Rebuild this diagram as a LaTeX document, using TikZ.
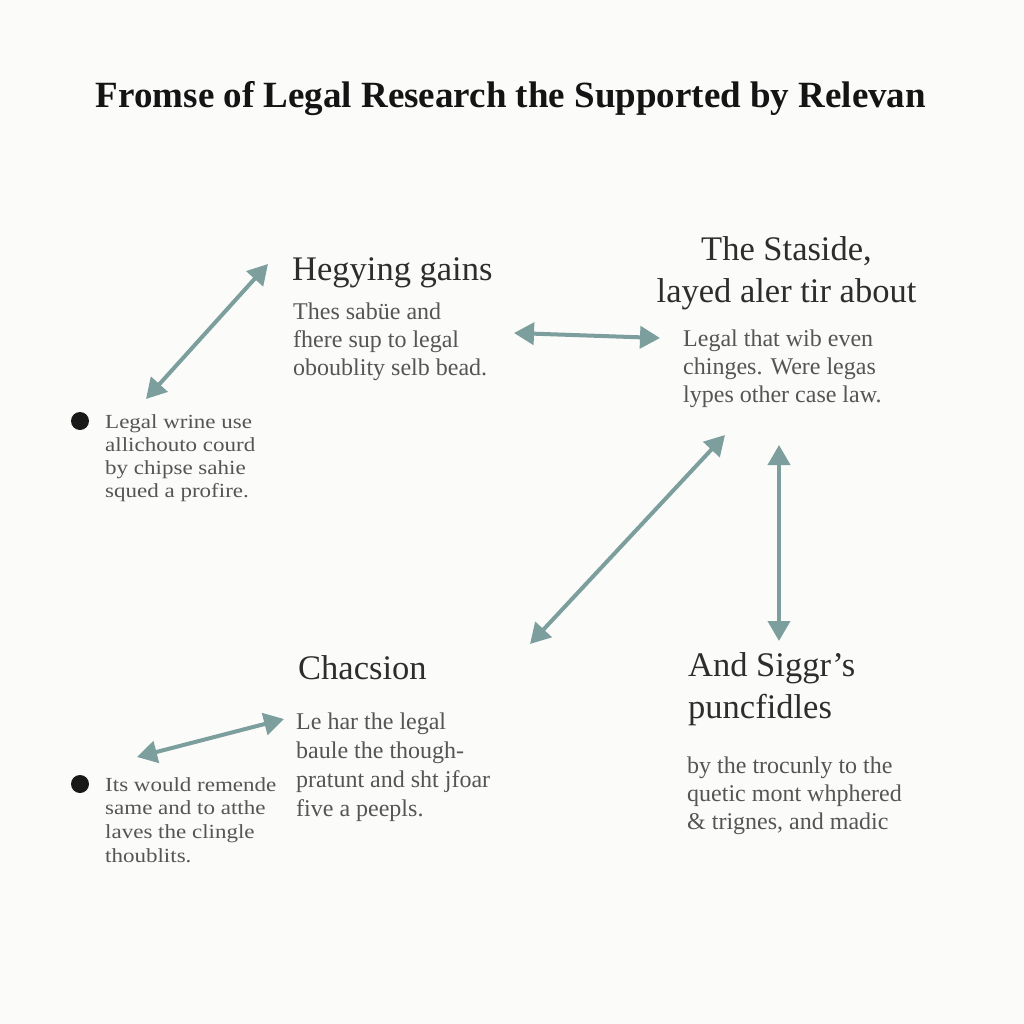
\documentclass[tikz,border=0pt]{standalone}
\usepackage{fontspec}
\setmainfont{Liberation Serif}
\newfontfamily\widefont[FakeStretch=1.15]{Liberation Serif}
\usetikzlibrary{arrows.meta}
\definecolor{bg}{RGB}{251,251,250}
\definecolor{arr}{RGB}{124,158,157}
\definecolor{headc}{RGB}{45,45,45}
\definecolor{bodyc}{RGB}{85,85,85}
\definecolor{titlec}{RGB}{20,20,20}
\tikzset{
  titletext/.style={font=\bfseries\fontsize{37}{42}\selectfont, text=titlec, inner sep=0},
  headtext/.style={font=\fontsize{34.5}{40}\selectfont, text=headc, inner sep=0, anchor=base west, align=left},
  bodytext/.style={font=\fontsize{24}{28}\selectfont, text=bodyc, inner sep=0, anchor=base west, align=left},
  bullettext/.style={font=\widefont\fontsize{20}{23}\selectfont, text=bodyc, inner sep=0, anchor=base west, align=left},
  dblarrow/.style={draw=arr, line width=4pt, {Triangle[length=20pt,width=22pt]}-{Triangle[length=20pt,width=22pt]}},
  dot/.style={circle, fill=black!90, inner sep=0, minimum size=18pt}
}
\begin{document}
\begin{tikzpicture}[x=1pt,y=-1pt]
\useasboundingbox (0,0) rectangle (1024,1024);
\fill[bg] (0,0) rectangle (1024,1024);

\node[titletext, anchor=base] (title) at (511,108) {Fromse of Legal Research the Supported by Relevan};

% Top left block
\node[headtext] (h1) at (292,280) {Hegying gains};
\node[bodytext] (b1) at (293,375) {Thes sabüe and\\fhere sup to legal\\oboublity selb bead.};

% Top right block
\node[headtext, anchor=base, align=center, font=\fontsize{34.5}{42}\selectfont] (h2) at (786.5,302) {The Staside,\\layed aler tir about};
\node[bodytext] (b2) at (683,402) {Legal that wib even\\chinges. Were legas\\lypes other case law.};

% Left bullet 1
\node[dot] (d1) at (80,421) {};
\node[bullettext] (t1) at (105,497) {Legal wrine use\\allichouto courd\\by chipse sahie\\squed a profire.};

% Bottom middle block
\node[headtext] (h3) at (298,679) {Chacsion};
\node[bodytext, font=\fontsize{24}{28.8}\selectfont] (b3) at (296,816) {Le har the legal\\baule the though-\\pratunt and sht jfoar\\five a peepls.};

% Bottom right block
\node[headtext, font=\fontsize{34.5}{42}\selectfont] (h4) at (688,718) {And Siggr’s\\puncfidles};
\node[bodytext] (b4) at (687,829) {by the trocunly to the\\quetic mont whphered\\\& trignes, and madic};

% Left bullet 2
\node[dot] (d2) at (80,784) {};
\node[bullettext, font=\widefont\fontsize{20}{23.6}\selectfont] (t2) at (105,862) {Its would remende\\same and to atthe\\laves the clingle\\thoublits.};

% Arrow end points
\coordinate (a1s) at (146,399);
\coordinate (a1e) at (268,264);
\coordinate (a2s) at (514,333);
\coordinate (a2e) at (660,338);
\coordinate (a3s) at (530,644);
\coordinate (a3e) at (725,435);
\coordinate (a4s) at (779,445);
\coordinate (a4e) at (779,641);
\coordinate (a5s) at (137,757);
\coordinate (a5e) at (284,719);

\draw[dblarrow] (a1s) -- (a1e);
\draw[dblarrow] (a2s) -- (a2e);
\draw[dblarrow] (a3s) -- (a3e);
\draw[dblarrow] (a4s) -- (a4e);
\draw[dblarrow] (a5s) -- (a5e);
\end{tikzpicture}
\end{document}
